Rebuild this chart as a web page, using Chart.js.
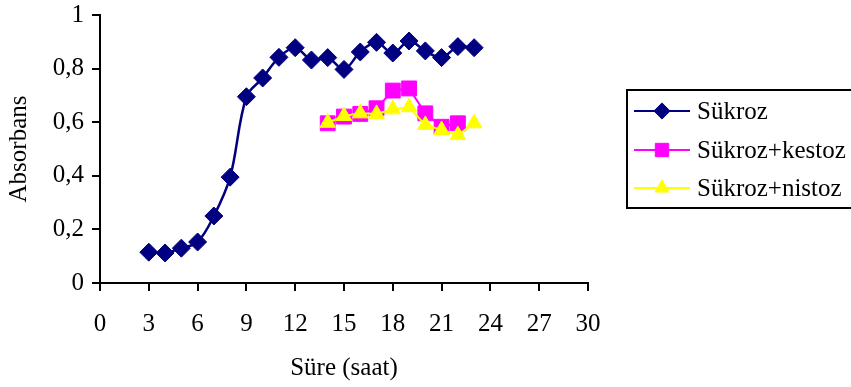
<!DOCTYPE html>
<html>
<head>
<meta charset="utf-8">
<script src="https://cdn.jsdelivr.net/npm/chart.js@4"></script>
<style>
  html, body { margin: 0; padding: 0; background: #fff; }
  #wrap { width: 851px; height: 387px; }
</style>
</head>
<body>
<div id="wrap"><canvas id="absChart" width="851" height="387"></canvas></div>
<script>
const hours = [3, 4, 5, 6, 7, 8, 9, 10, 11, 12, 13, 14, 15, 16, 17, 18, 19, 20, 21, 22, 23];
const sukroz = [0.115, 0.112, 0.13, 0.153, 0.25, 0.395, 0.695, 0.765, 0.842, 0.878, 0.832, 0.841, 0.797, 0.862, 0.898, 0.858, 0.903, 0.866, 0.841, 0.882, 0.878];

const hoursKestoz = [14, 15, 16, 17, 18, 19, 20, 21, 22];
const kestoz = [0.596, 0.621, 0.631, 0.652, 0.718, 0.726, 0.633, 0.583, 0.596];

const hoursNistoz = [14, 15, 16, 17, 18, 19, 20, 21, 22, 23];
const nistoz = [0.598, 0.623, 0.633, 0.631, 0.648, 0.656, 0.59, 0.571, 0.552, 0.596];

const xTicks = ["0", "3", "6", "9", "12", "15", "18", "21", "24", "27", "30"];
const yTicks = ["0", "0,2", "0,4", "0,6", "0,8", "1"];

const toPoints = (xs, ys) => xs.map((x, i) => ({ x: x, y: ys[i] }));
const serif = "'Liberation Serif', 'Times New Roman', serif";
const fontSize = 25;

// legend box drawn by hand, Excel style
const boxLegend = {
	id: "boxLegend",
	afterDraw(chart) {
		const ctx = chart.ctx;
		const left = 627, top = 90, bottom = 208;
		ctx.save();
		ctx.strokeStyle = "#000";
		ctx.lineWidth = 2;
		ctx.strokeRect(left, top, 851 - left + 5, bottom - top);
		const rows = [111, 150, 188];
		chart.data.datasets.forEach((ds, i) => {
			const y = rows[i];
			ctx.strokeStyle = ds.borderColor;
			ctx.lineWidth = 2;
			ctx.beginPath();
			ctx.moveTo(634, y);
			ctx.lineTo(690, y);
			ctx.stroke();
			ctx.fillStyle = ds.backgroundColor;
			ctx.lineWidth = 1;
			Chart.helpers.drawPoint(ctx, {
				pointStyle: ds.pointStyle,
				radius: ds.pointRadius * 0.9,
				borderWidth: 1
			}, 662, y);
			ctx.fillStyle = "#000";
			ctx.font = fontSize + "px " + serif;
			ctx.textBaseline = "middle";
			ctx.fillText(ds.label, 697, y + 1);
		});
		ctx.restore();
	}
};

new Chart(document.getElementById("absChart"), {
	type: "line",
	data: {
		datasets: [
			{
				label: "Sükroz",
				data: toPoints(hours, sukroz),
				borderColor: "#000080",
				backgroundColor: "#000080",
				borderWidth: 2.5,
				pointStyle: "rectRot",
				pointRadius: 9,
				pointBorderWidth: 1,
				tension: 0.35,
				order: 2
			},
			{
				label: "Sükroz+kestoz",
				data: toPoints(hoursKestoz, kestoz),
				borderColor: "#FF00FF",
				backgroundColor: "#FF00FF",
				borderWidth: 2,
				pointStyle: "rect",
				pointRadius: 10.5,
				pointBorderWidth: 1,
				tension: 0,
				order: 1
			},
			{
				label: "Sükroz+nistoz",
				data: toPoints(hoursNistoz, nistoz),
				borderColor: "#FFFF00",
				backgroundColor: "#FFFF00",
				borderWidth: 2,
				pointStyle: "triangle",
				pointRadius: 9,
				pointBorderWidth: 1,
				tension: 0,
				order: 0
			}
		]
	},
	options: {
		responsive: false,
		animation: false,
		layout: { padding: { top: 15, right: 263, left: 0, bottom: 0 } },
		plugins: {
			legend: { display: false },
			tooltip: { enabled: false }
		},
		scales: {
			x: {
				type: "linear",
				min: 0,
				max: 30,
				afterFit: (s) => { s.height = 104; },
				afterBuildTicks: (s) => { s.ticks = xTicks.map((t) => ({ value: Number(t) })); },
				ticks: {
					color: "#000",
					font: { family: serif, size: fontSize },
					padding: 18,
					maxRotation: 0,
					autoSkip: false,
					callback: (v, i) => xTicks[i]
				},
				grid: { drawOnChartArea: false, color: "#000", tickLength: 8, lineWidth: 2 },
				border: { color: "#000", width: 2 },
				title: {
					display: true,
					text: "Süre (saat)",
					color: "#000",
					font: { family: serif, size: fontSize },
					padding: { top: 12 }
				}
			},
			y: {
				min: 0,
				max: 1,
				afterFit: (s) => { s.width = 100; s.paddingTop = 0; },
				afterBuildTicks: (s) => { s.ticks = yTicks.map((t) => ({ value: Number(t.replace(",", ".")) })); },
				ticks: {
					color: "#000",
					font: { family: serif, size: fontSize },
					padding: 8,
					autoSkip: false,
					callback: (v, i) => yTicks[i]
				},
				grid: { drawOnChartArea: false, color: "#000", tickLength: 8, lineWidth: 2 },
				border: { color: "#000", width: 2 },
				title: {
					display: true,
					text: "Absorbans",
					color: "#000",
					font: { family: serif, size: fontSize },
					padding: { bottom: 2 }
				}
			}
		}
	},
	plugins: [boxLegend]
});
</script>
</body>
</html>
